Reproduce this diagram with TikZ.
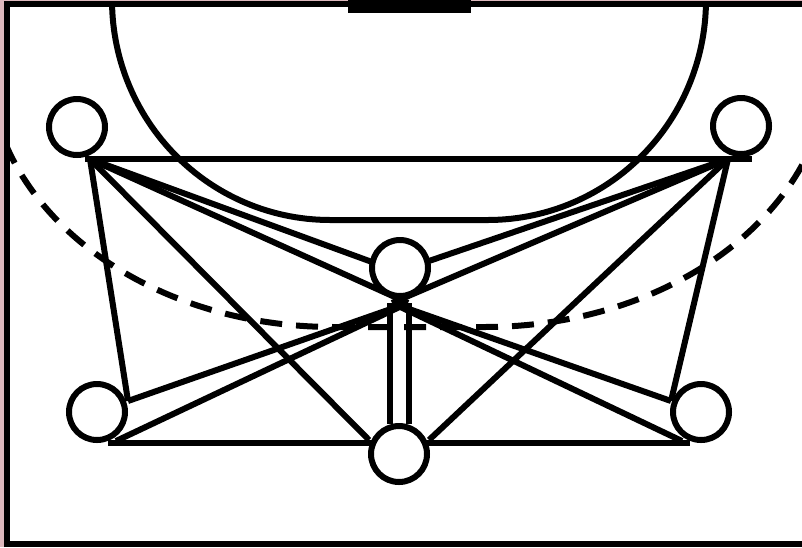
\documentclass[tikz,border=0pt]{standalone}
\definecolor{pinkbg}{RGB}{221,184,189}
\begin{document}
\begin{tikzpicture}[x=1pt,y=-1pt,
  ln/.style={line width=6pt},
  player/.style={circle, draw, fill=white, line width=6pt, minimum size=56pt, inner sep=0pt}]
\useasboundingbox (0,0) rectangle (802,547);
\fill[pinkbg] (0,0) rectangle (802,547);
\fill[white] (4,1) rectangle (802,547);
% court markings
\begin{scope}
\clip (10,7) rectangle (802,541);
\draw[ln] plot[domain=0:90,samples=60] ({330-218*cos(\x)},{220*sin(\x)})
  -- plot[domain=90:0,samples=60] ({488+218*cos(\x)},{220*sin(\x)});
\draw[ln, dash pattern=on 22pt off 14pt]
  plot[domain=-20:90,samples=80] ({333-345*cos(\x)},{60+267*sin(\x)})
  -- plot[domain=90:-20,samples=80] ({485+345*cos(\x)},{60+267*sin(\x)});
\end{scope}
\fill (348,0) rectangle (471,13);
\draw[line width=6pt] (7,547) -- (7,4) -- (802,4);
\draw[line width=6pt] (4,543.5) -- (802,543.5);
% anchor points
\coordinate (lta) at (90,159);
\coordinate (rta) at (728,159);
\coordinate (hl) at (85,159);
\coordinate (hr) at (752,159);
\coordinate (lbu) at (128,401);
\coordinate (lbl) at (116,441);
\coordinate (rbu) at (671,401);
\coordinate (rbl) at (682,441);
\coordinate (bl) at (108,443);
\coordinate (br) at (690,443);
\coordinate (bcl) at (369,440);
\coordinate (bcr) at (429,440);
\coordinate (cl) at (372,262);
\coordinate (cr) at (426,262);
\coordinate (xl) at (408,303);
\coordinate (xr) at (392,303);
\coordinate (v1t) at (390,303);
\coordinate (v1b) at (390,424);
\coordinate (v2t) at (408.5,303);
\coordinate (v2b) at (408.5,424);
% passes
\draw[ln] (hl) -- (hr);
\draw[ln] (bl) -- (br);
\draw[ln] (lta) -- (lbu);
\draw[ln] (lta) -- (bcl);
\draw[ln] (lta) -- (cl);
\draw[ln] (lta) -- (xl);
\draw[ln] (rta) -- (rbu);
\draw[ln] (rta) -- (bcr);
\draw[ln] (rta) -- (cr);
\draw[ln] (rta) -- (xr);
\draw[ln] (lbu) -- (xl);
\draw[ln] (lbl) -- (xl);
\draw[ln] (rbu) -- (xr);
\draw[ln] (rbl) -- (xr);
\draw[ln] (v1t) -- (v1b);
\draw[ln] (v2t) -- (v2b);
% players
\node[player] (lt) at (77,127) {};
\node[player] (rt) at (741,126) {};
\node[player] (c) at (400,268) {};
\node[player] (lb) at (97,412) {};
\node[player] (rb) at (701,412) {};
\node[player] (bc) at (399,454) {};
\end{tikzpicture}
\end{document}
